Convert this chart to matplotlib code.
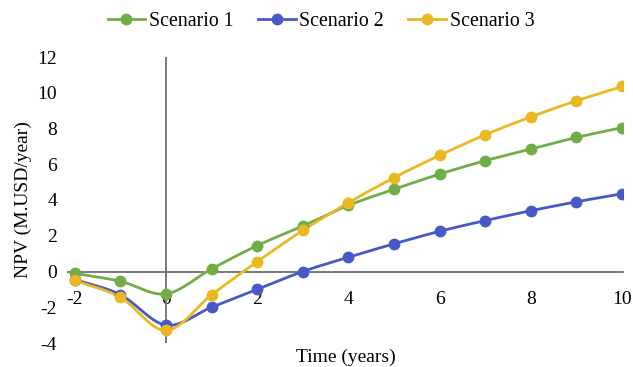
import numpy as np
import matplotlib
matplotlib.use("Agg")
import matplotlib.pyplot as plt

# data
years = [-2, -1, 0, 1, 2, 3, 4, 5, 6, 7, 8, 9, 10]
scenario_1 = [-0.1, -0.55, -1.25, 0.15, 1.45, 2.55, 3.7, 4.6, 5.45, 6.2, 6.85, 7.5, 8.05]
scenario_2 = [-0.45, -1.3, -3.0, -2.0, -1.0, 0.0, 0.8, 1.55, 2.25, 2.85, 3.4, 3.9, 4.35]
scenario_3 = [-0.5, -1.45, -3.3, -1.3, 0.55, 2.3, 3.85, 5.25, 6.5, 7.65, 8.65, 9.55, 10.35]
labels = ["Scenario 1", "Scenario 2", "Scenario 3"]
colors = ["#70ad47", "#4659c6", "#ebb821"]
y_ticks = [-4, -2, 0, 2, 4, 6, 8, 10, 12]
x_ticks = [-2, 0, 2, 4, 6, 8, 10]


def smooth(x, y, n=20):
    # catmull-rom curve through the points (like excel's smoothed line)
    x = np.asarray(x, float)
    y = np.asarray(y, float)
    px = np.concatenate([[2*x[0]-x[1]], x, [2*x[-1]-x[-2]]])
    py = np.concatenate([[2*y[0]-y[1]], y, [2*y[-1]-y[-2]]])
    t = np.linspace(0, 1, n, endpoint=False)
    xs, ys = [], []
    for i in range(1, len(px)-2):
        for p, out in ((px, xs), (py, ys)):
            p0, p1, p2, p3 = p[i-1], p[i], p[i+1], p[i+2]
            out.extend(0.5*((2*p1) + (-p0+p2)*t + (2*p0-5*p1+4*p2-p3)*t**2
                            + (-p0+3*p1-3*p2+p3)*t**3))
    xs.append(x[-1])
    ys.append(y[-1])
    return np.array(xs), np.array(ys)


plt.rcParams['font.family'] = ['Liberation Serif', 'DejaVu Serif']
plt.rcParams['axes.unicode_minus'] = False
fig = plt.figure(figsize=(6.33, 3.67), dpi=100)
ax = fig.add_axes([68/633, 1-343/367, 555/633, 286/367])

for vals, lab, c in zip([scenario_1, scenario_2, scenario_3], labels, colors):
    sx, sy = smooth(years, vals)
    ax.plot(sx, sy, color=c, lw=2, zorder=3)
    ax.plot(years, vals, 'o', color=c, ms=7.5, zorder=4)
    ax.plot([], [], '-o', color=c, lw=2, ms=7.5, label=lab)

ax.set_xlim(-2.15, 10.02)
ax.set_ylim(-4, 12)

for s in ['top', 'right', 'left']:
    ax.spines[s].set_visible(False)
ax.spines['bottom'].set_position(('data', 0))
ax.spines['bottom'].set_color('#707070')
ax.spines['bottom'].set_linewidth(1.3)
ax.axvline(0, color='#707070', lw=1.3, zorder=2)

ax.set_xticks(x_ticks)
ax.set_yticks(y_ticks)
ax.tick_params(axis='x', length=0, pad=14, labelsize=14)
ax.tick_params(axis='y', length=0, pad=8, labelsize=14)

ax.set_ylabel("NPV (M.USD/year)", fontsize=14, labelpad=4)
ax.set_xlabel("Time (years)", fontsize=14)
ax.xaxis.set_label_coords(0.5, -0.02)

fig.legend(loc='center', bbox_to_anchor=(321/633, 1-21/367), ncol=3, frameon=False,
           fontsize=14.3, handlelength=1.9, columnspacing=1.2, handletextpad=0.2)

fig.savefig("out.png", dpi=100)
